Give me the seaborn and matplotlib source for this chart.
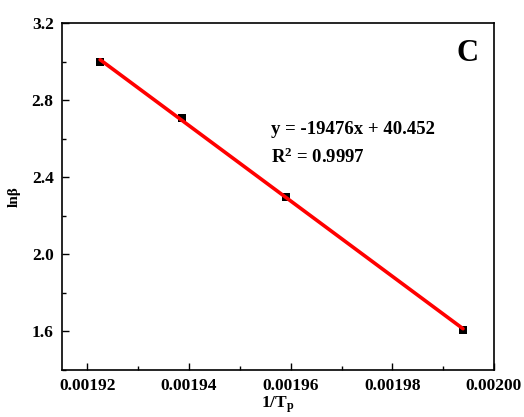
import matplotlib
matplotlib.use("Agg")
import matplotlib.pyplot as plt
import seaborn as sns
import numpy as np
import pandas as pd
from matplotlib.ticker import MultipleLocator, FormatStrFormatter

inv_tp = [0.0019225, 0.0019386, 0.0019590, 0.0019939]
ln_beta = [3.00, 2.705, 2.30, 1.61]
eq_text = "y = -19476x + 40.452"
r2_text = "R$^2$ = 0.9997"
panel = "C"

sns.set_theme(style="ticks")
plt.rcParams['font.family'] = ['Liberation Serif', 'DejaVu Serif']
plt.rcParams['mathtext.fontset'] = 'custom'
plt.rcParams['mathtext.rm'] = 'Liberation Serif:bold'
plt.rcParams['mathtext.it'] = 'Liberation Serif:bold'
plt.rcParams['mathtext.bf'] = 'Liberation Serif:bold'
plt.rcParams['text.color'] = 'black'
plt.rcParams['axes.labelcolor'] = 'black'
plt.rcParams['xtick.color'] = 'black'
plt.rcParams['ytick.color'] = 'black'

df = pd.DataFrame({"x": inv_tp, "y": ln_beta})

fig = plt.figure(figsize=(5.24, 4.17), dpi=100)
ax = fig.add_axes([62/524, 1-370/417, (494-62)/524, (370-23)/417])

sns.regplot(data=df, x="x", y="y", ax=ax, ci=None, truncate=True, marker="s",
            scatter_kws=dict(s=30, color="black", zorder=2, linewidths=0, alpha=1),
            line_kws=dict(color="#ff0000", lw=2.6, zorder=3))

ax.set_xlim(0.001915, 0.00200)
ax.set_ylim(1.4, 3.2)
ax.xaxis.set_major_locator(MultipleLocator(0.00002))
ax.xaxis.set_minor_locator(MultipleLocator(0.00001))
ax.yaxis.set_major_locator(MultipleLocator(0.4))
ax.yaxis.set_minor_locator(MultipleLocator(0.2))
ax.xaxis.set_major_formatter(FormatStrFormatter("%.5f"))
ax.yaxis.set_major_formatter(FormatStrFormatter("%.1f"))

ax.tick_params(which="both", direction="in", top=False, right=False,
               color="black", labelcolor="black")
ax.tick_params(which="major", length=5, width=1.0, labelsize=12.5, pad=6)
ax.tick_params(which="minor", length=3, width=1.0)
for lab in ax.get_xticklabels() + ax.get_yticklabels():
    lab.set_fontweight("bold")

for s in ax.spines.values():
    s.set_visible(True)
    s.set_color("black")
    s.set_linewidth(1.2)

ax.set_xlabel("1/T$_\\mathregular{p}$", fontsize=12.5, fontweight="bold",
              labelpad=0, color="black")
ax.set_ylabel("ln\u03b2", fontsize=11, fontweight="bold", labelpad=8, color="black")

ax.text(0.965, 0.955, panel, transform=ax.transAxes, ha="right", va="top",
        fontsize=22, fontweight="bold", color="black")
ax.text(271, 417-130, eq_text, transform=None, fontsize=13.5, fontweight="bold",
        va="center", color="black")
ax.text(271, 417-157, r2_text, transform=None, fontsize=13.5, fontweight="bold",
        va="center", color="black")

fig.savefig("out.png", dpi=100)
